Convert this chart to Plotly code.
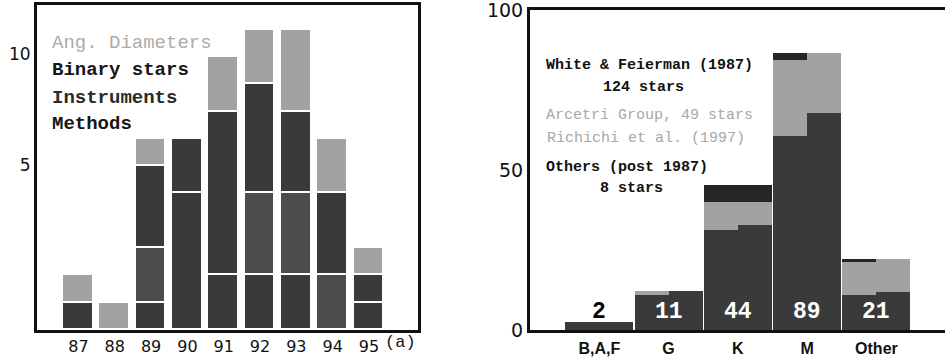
import plotly.graph_objects as go

# ---------------- left panel data ----------------
YEARS = [87, 88, 89, 90, 91, 92, 93, 94, 95]
YEAR_LABELS = ["87", "88", "89", "90", "91", "92", "93", "94", "95"]
METHODS = [1, 0, 1, 5, 2, 2, 2, 0, 1]
INSTRUMENTS = [0, 0, 2, 0, 0, 3, 3, 2, 0]
BINARY = [0, 0, 3, 2, 6, 4, 3, 3, 1]
ANG_DIAM = [1, 1, 1, 0, 2, 2, 3, 2, 1]
LEFT_TICK_POS = [6.05, 10.1]
LEFT_TICK_TEXT = ["5", "10"]

# ---------------- right panel data ----------------
CATS = ["B,A,F", "G", "K", "M", "Other"]
COUNT_LABELS = ["2", "11", "44", "89", "21"]
LEFT_DARK = [2.5, 11.0, 31.2, 60.6, 11.0]
LEFT_LIGHT = [0, 1.3, 8.9, 23.8, 10.3]
LEFT_TOP = [0, 0, 5.2, 2.1, 0.9]
RIGHT_DARK = [2.5, 12.3, 32.8, 67.7, 12.0]
RIGHT_LIGHT = [0, 0, 7.3, 18.8, 10.2]
RIGHT_TOP = [0, 0, 5.2, 0, 0]
RIGHT_TICKS = [0, 50, 100]

W, H = 945, 360
DARK = "#3a3a3a"
MED = "#4c4c4c"
LIGHT = "#a2a2a2"
TOP = "#262626"
MONO = "Liberation Mono"
SANS = "DejaVu Sans"

fig = go.Figure()

def nz(v):
    return [x if x else None for x in v]

for vals, col in [(METHODS, DARK), (INSTRUMENTS, MED), (BINARY, DARK), (ANG_DIAM, LIGHT)]:
    fig.add_trace(go.Bar(x=YEARS, y=nz(vals), width=0.84, marker=dict(color=col, line=dict(color="white", width=1.6)),
                         xaxis="x", yaxis="y", showlegend=False, hoverinfo="skip"))

idx = list(range(len(CATS)))
xl = [i - 0.245 for i in idx]
xr = [i + 0.245 for i in idx]
for xs, vals, col in [(xl, LEFT_DARK, DARK), (xl, LEFT_LIGHT, LIGHT), (xl, LEFT_TOP, TOP),
                      (xr, RIGHT_DARK, DARK), (xr, RIGHT_LIGHT, LIGHT), (xr, RIGHT_TOP, TOP)]:
    fig.add_trace(go.Bar(x=xs, y=nz(vals), width=0.49, marker=dict(color=col, line=dict(width=0)),
                         xaxis="x2", yaxis="y2", showlegend=False, hoverinfo="skip"))

ann = []
for i, t in enumerate(COUNT_LABELS):
    ann.append(dict(x=i, y=5.5, xref="x2", yref="y2", text=t, showarrow=False,
                    font=dict(family=MONO, size=23, color="black" if i == 0 else "white", weight="bold"),
                    yanchor="middle"))

def px(x, y, text, size, color, bold=True, anchor="left"):
    ann.append(dict(x=x / W, y=1 - y / H, xref="paper", yref="paper", text=text, showarrow=False,
                    xanchor=anchor, yanchor="middle",
                    font=dict(family=MONO, size=size, color=color, weight="bold" if bold else "normal")))

px(50, 43, "Ang. Diameters", 19, "#ababab", bold=False)
px(50, 70, "Binary stars", 19, "#161616")
px(50, 98, "Instruments", 19, "#2a2a2a")
px(50, 124, "Methods", 19, "#161616")
px(383, 342, "(a)", 17, "#111111", bold=False)

px(544, 65, "White &amp; Feierman (1987)", 15, "#111111")
px(643, 87, "124 stars", 15, "#111111", anchor="center")
px(544, 116, "Arcetri Group, 49 stars", 15, "#a8a8a8", bold=False)
px(545, 138, "Richichi et al. (1997)", 15, "#a8a8a8", bold=False)
px(544, 167, "Others (post 1987)", 15, "#111111")
px(631, 188, "8 stars", 15, "#111111", anchor="center")

line = dict(showline=True, linewidth=3, linecolor="#111111", showgrid=False, zeroline=False, ticks="",
            automargin=False, ticklabeloverflow="allow")

fig.update_layout(
    width=W, height=H, margin=dict(l=0, r=0, t=0, b=0),
    paper_bgcolor="white", plot_bgcolor="white", barmode="stack", bargap=0,
    annotations=ann,
    xaxis=dict(domain=[37 / W, 418 / W], range=[85.86, 96.35], tickvals=YEARS, ticktext=YEAR_LABELS,
               mirror=True, anchor="y", ticklabelstandoff=0,
               tickfont=dict(family=SANS, size=16, color="#111111"), **line),
    yaxis=dict(domain=[30 / H, 355 / H], range=[0, 11.9], tickvals=LEFT_TICK_POS, ticktext=LEFT_TICK_TEXT,
               mirror=True, anchor="x", tickfont=dict(family=SANS, size=17, color="#111111"), **line),
    xaxis2=dict(domain=[530 / W, 1.0], range=[-1.0, 4.99], tickvals=idx, ticktext=CATS,
                mirror=True, anchor="y2", ticklabelstandoff=2,
                tickfont=dict(family="Liberation Sans", size=16, color="#111111", weight="bold"), **line),
    yaxis2=dict(domain=[30 / H, 350 / H], range=[0, 100], tickvals=RIGHT_TICKS, ticktext=[str(v) for v in RIGHT_TICKS],
                mirror=False, anchor="x2", tickfont=dict(family=SANS, size=19, color="#111111"), **line),
)

fig.write_html("out.html", config={"displayModeBar": False},
               post_script="document.body.style.margin='0';document.body.style.overflow='hidden';")
